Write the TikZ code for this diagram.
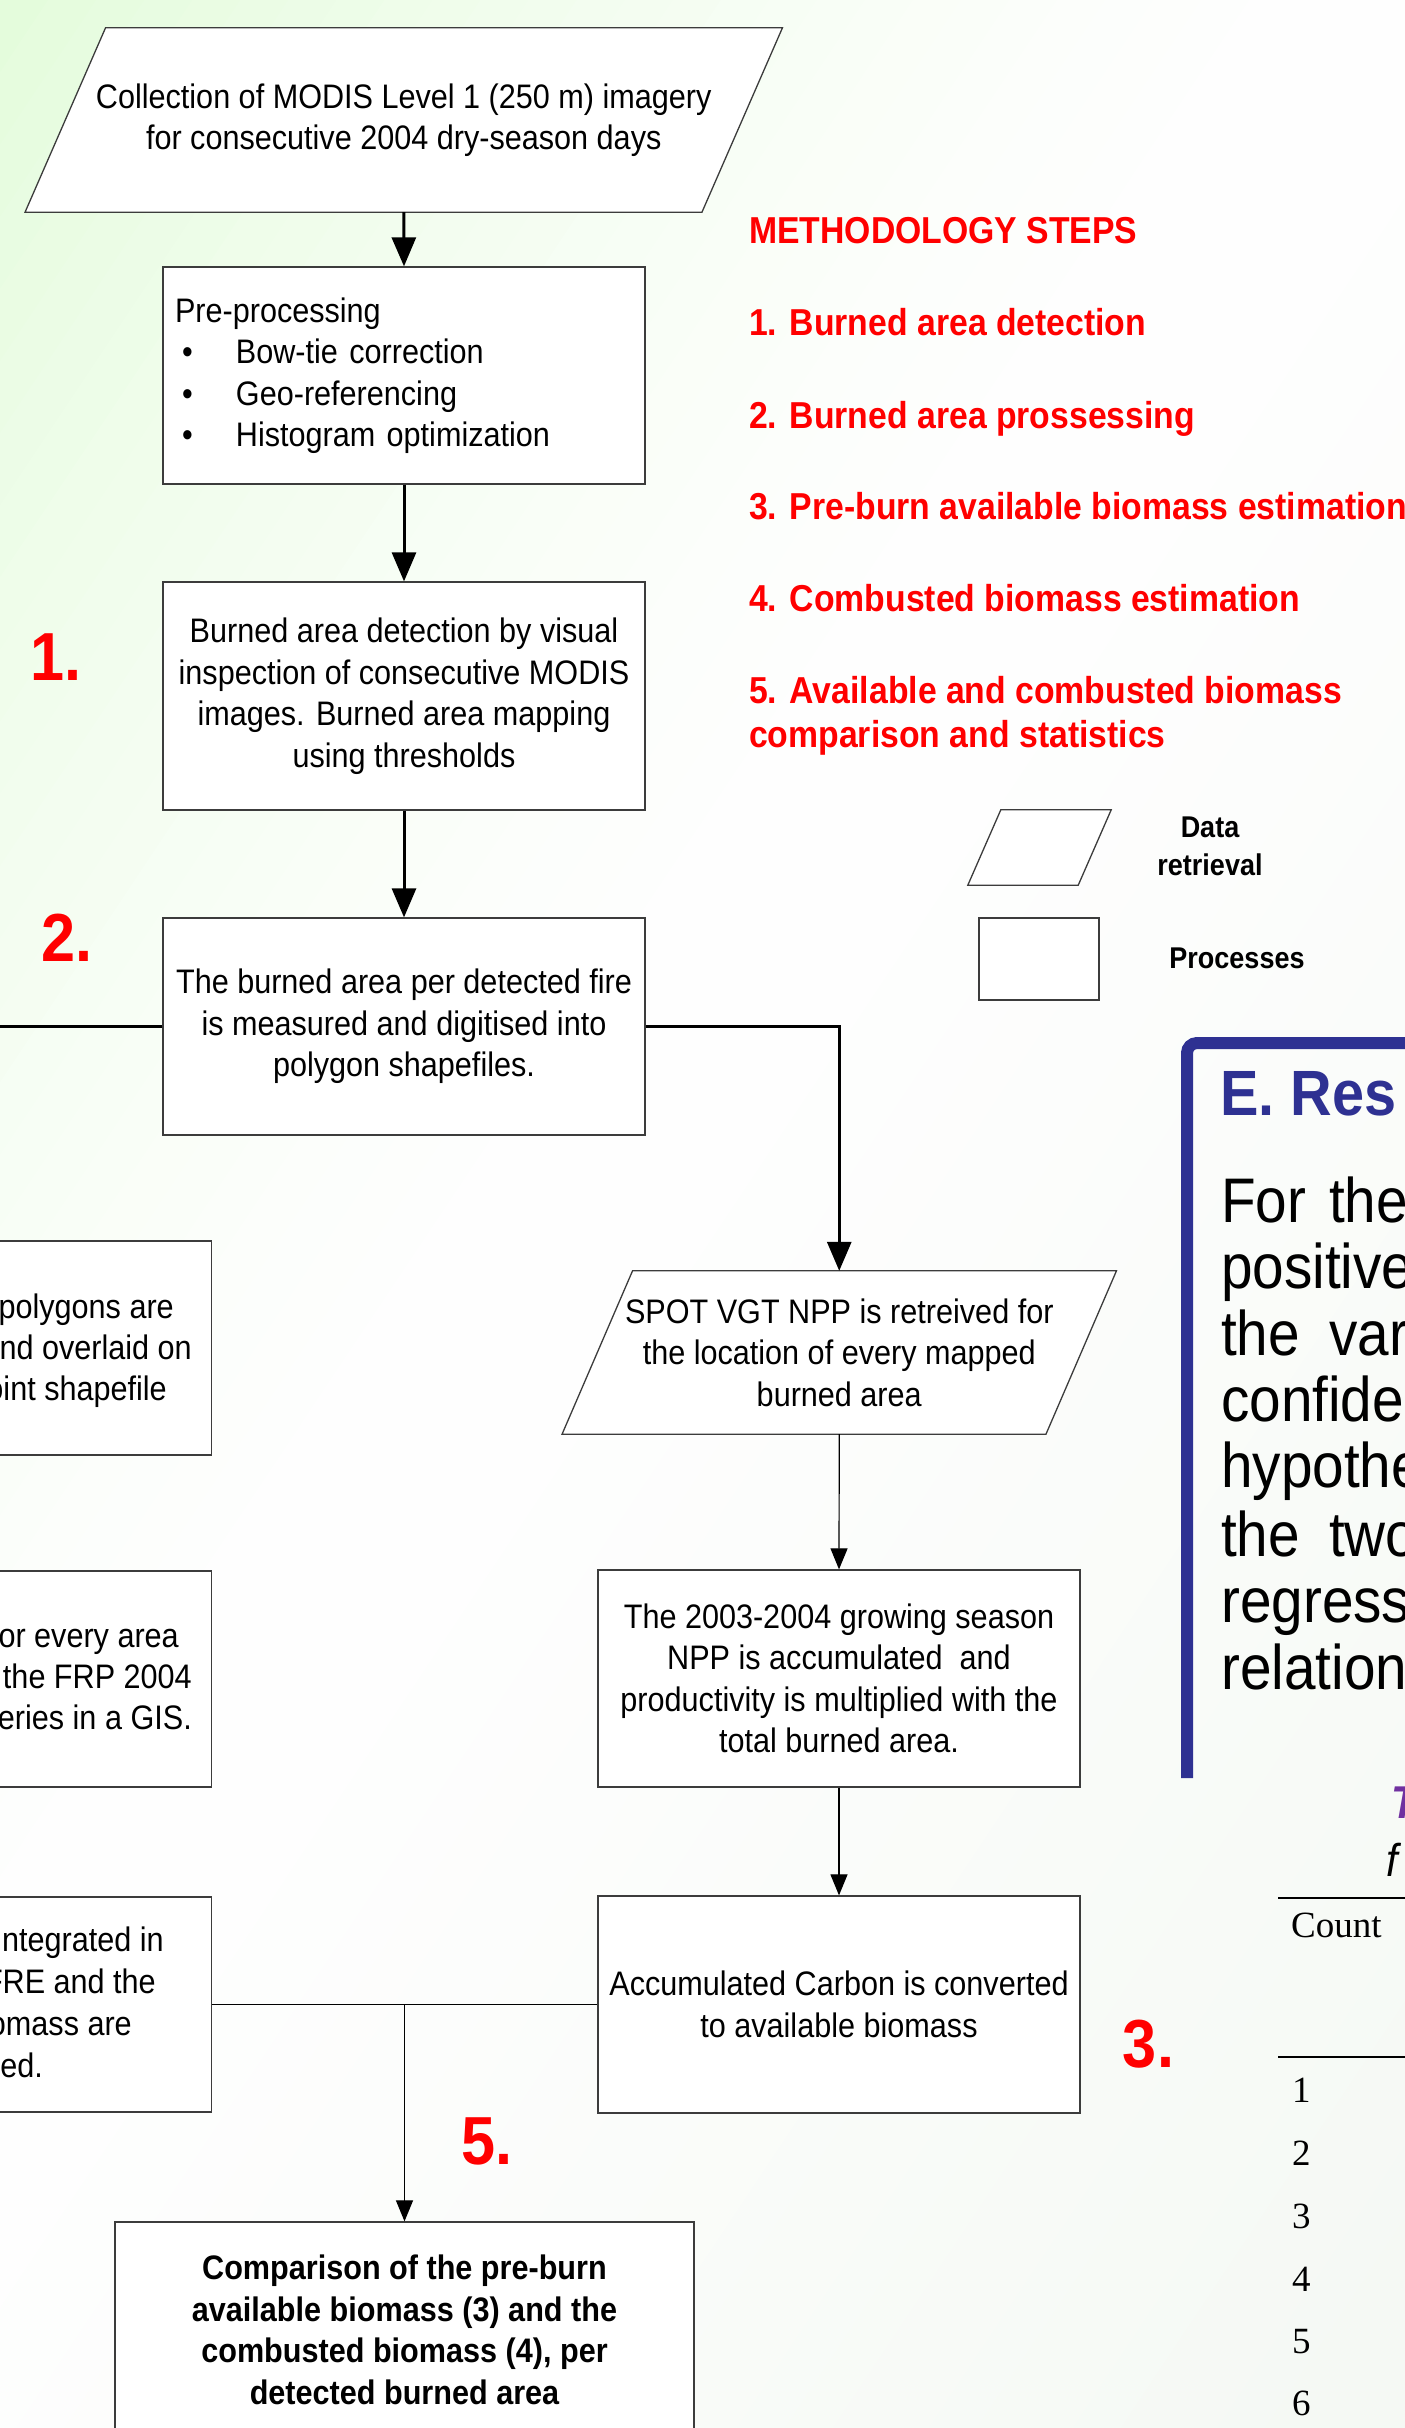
\documentclass[tikz,border=0pt]{standalone}
\usepackage{fontspec}
\setmainfont{Liberation Sans}[FakeStretch=0.9]
\newfontfamily\tabserif{Liberation Serif}
\usetikzlibrary{arrows.meta,calc}
\pgfdeclarelayer{bands}
\pgfdeclarelayer{shapes}
\pgfsetlayers{bands,shapes,main}
\definecolor{stepred}{RGB}{255,0,0}
\definecolor{resblue}{RGB}{46,49,146}
\definecolor{tabpurple}{RGB}{112,48,160}
\definecolor{edgegray}{RGB}{60,60,60}
\tikzset{
  boxtext/.style={font=\fontsize{34}{41.5}\selectfont},
  procbox/.style={draw=edgegray, line width=1.3pt, fill=white, rectangle, inner sep=0pt, align=center, boxtext},
  databox/.style={rectangle, inner sep=0pt, align=center, boxtext},
  parshape/.style={draw=edgegray, line width=1.3pt, fill=white},
  flowthick/.style={line width=3pt, -{Triangle[length=29pt,width=24pt]}},
  flowthin/.style={line width=1.2pt, -{Triangle[length=21pt,width=17pt]}},
  plainthick/.style={line width=3pt},
  plainthin/.style={line width=1.2pt},
  steptext/.style={font=\bfseries\fontsize{37.5}{46}\selectfont, text=stepred, inner sep=0pt, anchor=base west},
  bignum/.style={font=\bfseries\fontsize{68}{68}\selectfont, text=stepred, inner sep=0pt, anchor=base},
  cuttext/.style={boxtext, inner sep=0pt, anchor=base east},
  legtext/.style={font=\bfseries\fontsize{30}{38}\selectfont, inner sep=0pt, anchor=base},
  restext/.style={font=\fontsize{63}{67}\selectfont, inner sep=0pt, anchor=base west},
  tabtext/.style={font=\tabserif\fontsize{37}{40}\selectfont, inner sep=0pt, anchor=base west},
}
\newcommand\drawpgram[2]{%
  \begin{pgfonlayer}{shapes}
    \filldraw[parshape] ($(#1.north west)+(#2,0)$) -- ($(#1.north east)+(#2,0)$) -- ($(#1.south east)+(-#2,0)$) -- ($(#1.south west)+(-#2,0)$) -- cycle;
  \end{pgfonlayer}}
\begin{document}
\begin{tikzpicture}[x=1pt,y=-1pt]
\useasboundingbox (0,0) rectangle (1405,2428);
\clip (0,0) rectangle (1405,2428);
% background gradient
\begin{pgfonlayer}{bands}
\begin{scope}
\clip (0,0) rectangle (1405,2428);
\fill[white] (0,0) rectangle (1405,2428);
\foreach \i in {0,...,63}{
  \pgfmathsetmacro\bgA{\i*40}
  \pgfmathsetmacro\bgE{\bgA+41}
  \pgfmathsetmacro\bgP{\bgA+20}
  \pgfmathsetmacro\bgTg{max(0.0001,1-\bgP/1150)}
  \pgfmathsetmacro\bgT{\bgTg^1.5}
  \pgfmathsetmacro\bgS{max(0,(\bgP-1150)/1364)}
  \pgfmathtruncatemacro\bgR{255-27*\bgT-10*\bgS}
  \pgfmathtruncatemacro\bgG{255-3*\bgT-6*\bgS}
  \pgfmathtruncatemacro\bgB{255-35*\bgT-11*\bgS}
  \definecolor{bandc}{RGB}{\bgR,\bgG,\bgB}
  \fill[bandc] ({\bgA*0.832+1662},{\bgA*0.554-2496}) -- ({\bgA*0.832-1662},{\bgA*0.554+2496})
     -- ({\bgE*0.832-1662},{\bgE*0.554+2496}) -- ({\bgE*0.832+1662},{\bgE*0.554-2496}) -- cycle;
}
\end{scope}
\end{pgfonlayer}

% main flow
\node[databox, minimum width=676.5pt, minimum height=184pt] (collect) at (403.75,120)
  {Collection of MODIS Level 1 (250 m) imagery\\for consecutive 2004 dry-season days};
\drawpgram{collect}{40.25}

\node[procbox, minimum width=482pt, minimum height=217pt, text width=458pt, inner xsep=12pt, align=left] (pre) at (404,375.5)
  {Pre-processing\\
   \hspace*{7pt}\makebox[54pt][l]{\textbullet}Bow-tie correction\\
   \hspace*{7pt}\makebox[54pt][l]{\textbullet}Geo-referencing\\
   \hspace*{7pt}\makebox[54pt][l]{\textbullet}Histogram optimization};

\node[procbox, minimum width=482pt, minimum height=228pt] (detect) at (404,696)
  {Burned area detection by visual\\inspection of consecutive MODIS\\images. Burned area mapping\\using thresholds};

\node[procbox, minimum width=482pt, minimum height=217pt] (measure) at (404,1026.5)
  {The burned area per detected fire\\is measured and digitised into\\polygon shapefiles.};

\node[databox, minimum width=483.5pt, minimum height=163pt] (spot) at (839.25,1352.5)
  {SPOT VGT NPP is retreived for\\the location of every mapped\\burned area};
\drawpgram{spot}{35.25}

\node[procbox, minimum width=482pt, minimum height=217pt] (npp) at (839,1678.5)
  {The 2003-2004 growing season\\NPP is accumulated\ \ and\\productivity is multiplied with the\\total burned area.};

\node[procbox, minimum width=482pt, minimum height=217pt] (acc) at (839,2004.5)
  {Accumulated Carbon is converted\\to available biomass};

\node[procbox, font=\bfseries\fontsize{34}{41.5}\selectfont, minimum width=579pt, minimum height=216pt] (compare) at (404.5,2330)
  {Comparison of the pre-burn\\available biomass (3) and the\\combusted biomass (4), per\\detected burned area};

% left (cut-off) column
\node[procbox, minimum width=216pt, minimum height=214pt, anchor=east] (leftA) at (212,1348) {};
\node[procbox, minimum width=216pt, minimum height=216pt, anchor=east] (leftB) at (212,1679) {};
\node[procbox, minimum width=216pt, minimum height=215pt, anchor=east] (leftC) at (212,2004.5) {};
\node[cuttext] (la1) at (174,1318) {polygons are};
\node[cuttext] (la2) at (192,1359) {nd overlaid on};
\node[cuttext] (la3) at (167,1400) {oint shapefile};
\node[cuttext] (lb1) at (179,1647) {or every area};
\node[cuttext] (lb2) at (192,1688) {the FRP 2004};
\node[cuttext] (lb3) at (192,1729) {eries in a GIS.};
\node[cuttext] (lc1) at (164,1951) {integrated in};
\node[cuttext] (lc2) at (156,1993) {FRE and the};
\node[cuttext] (lc3) at (132,2035) {omass are};
\node[cuttext] (lc4) at (43,2077) {ed.};

% connectors
\draw[flowthick] (collect.south) -- (pre.north);
\draw[flowthick] (pre.south) -- (detect.north);
\draw[flowthick] (detect.south) -- (measure.north);
\draw[flowthick] (measure.east) -| (spot.north);
\coordinate (leftend) at (0,1026.5);
\draw[plainthick] (measure.west) -- (leftend);
\draw[flowthin] (spot.south) -- (npp.north);
\draw[flowthin] (npp.south) -- (acc.north);
\draw[plainthin] (leftC.east) -- (acc.west);
\coordinate (merge) at (compare.north |- acc.west);
\draw[flowthin] (merge) -- (compare.north);

% methodology steps
\node[steptext] (steps) at (749,243) {METHODOLOGY STEPS};
\node[steptext] (st1) at (749,335) {1. Burned area detection};
\node[steptext] (st2) at (749,428) {2. Burned area prossessing};
\node[steptext] (st3) at (749,519) {3. Pre-burn available biomass estimation};
\node[steptext] (st4) at (749,611) {4. Combusted biomass estimation};
\node[steptext] (st5) at (749,703) {5. Available and combusted biomass};
\node[steptext] (st5b) at (749,747) {comparison and statistics};

% big step numbers
\node[bignum] (n1) at (56,680) {1.};
\node[bignum] (n2) at (67,961) {2.};
\node[bignum] (n3) at (1148.5,2067) {3.};
\node[bignum] (n5) at (487,2164) {5.};

% legend
\node[databox, minimum width=110pt, minimum height=75pt] (legdata) at (1039.5,847.5) {};
\drawpgram{legdata}{16.5}
\node[procbox, minimum width=120pt, minimum height=82pt] (legproc) at (1039,959) {};
\node[legtext] (legd1) at (1210,837) {Data};
\node[legtext] (legd2) at (1210,875) {retrieval};
\node[legtext] (legp) at (1237,968) {Processes};

% results panel (cut off)
\draw[resblue, line width=12pt, rounded corners=10pt] (1187,1778) -- (1187,1043) -- (1430,1043);
\node[restext, font=\bfseries\fontsize{64}{67}\selectfont, text=resblue] (restitle) at (1220,1115) {E. Res};
\node[restext] (r1a) at (1221,1222) {For};
\node[restext] (r1b) at (1329,1222) {the};
\node[restext] (r2) at (1221,1288) {positive};
\node[restext] (r3a) at (1221,1355) {the};
\node[restext] (r3b) at (1329,1355) {var};
\node[restext] (r4) at (1221,1421) {confide};
\node[restext] (r5) at (1221,1487) {hypothe};
\node[restext] (r6a) at (1221,1556) {the};
\node[restext] (r6b) at (1329,1556) {two};
\node[restext] (r7) at (1221,1622) {regress};
\node[restext] (r8) at (1221,1689) {relation};

% table (cut off)
\node[font=\bfseries\itshape\fontsize{46}{46}\selectfont, text=tabpurple, inner sep=0pt, anchor=base west] (capT) at (1391,1818) {T};
\node[font=\itshape\fontsize{46}{46}\selectfont, inner sep=0pt, anchor=base west] (capf) at (1386,1876) {f};
\draw[line width=2pt] (1278,1898) -- (1430,1898);
\draw[line width=2pt] (1278,2057) -- (1430,2057);
\node[tabtext] (count) at (1291,1937) {Count};
\node[tabtext] (row1) at (1292,2102) {1};
\node[tabtext] (row2) at (1292,2165) {2};
\node[tabtext] (row3) at (1292,2228) {3};
\node[tabtext] (row4) at (1292,2291) {4};
\node[tabtext] (row5) at (1292,2353) {5};
\node[tabtext] (row6) at (1292,2415) {6};
\end{tikzpicture}
\end{document}
